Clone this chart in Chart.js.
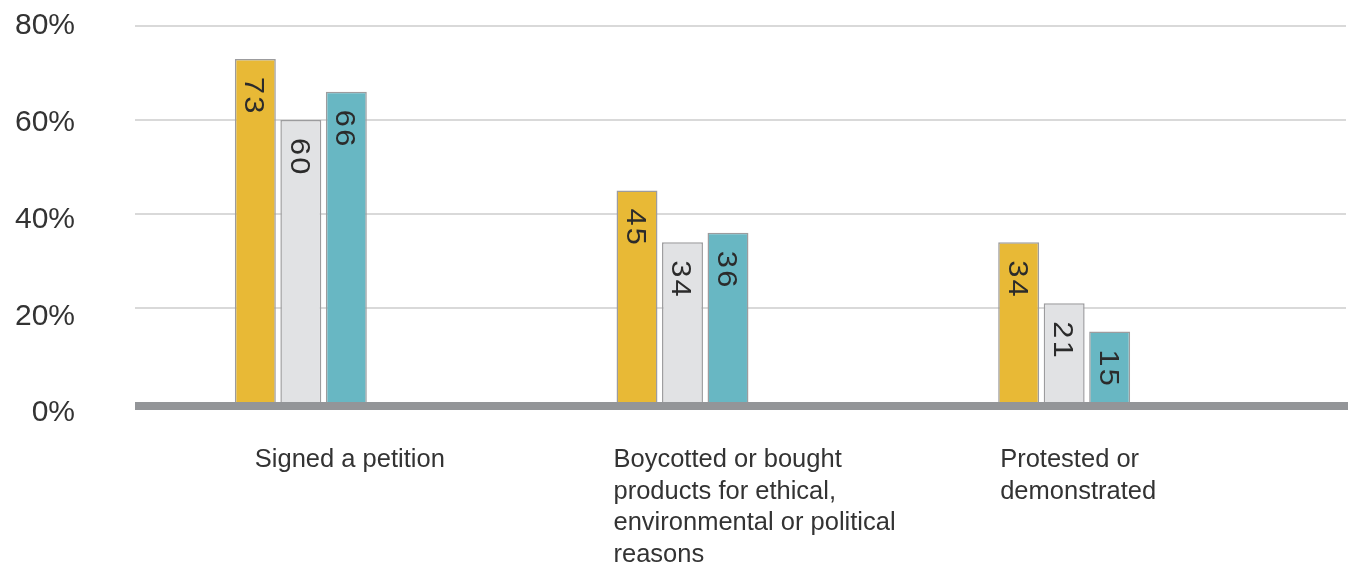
<!DOCTYPE html>
<html>
<head>
<meta charset="utf-8">
<script src="https://cdn.jsdelivr.net/npm/chart.js@4.4.1/dist/chart.umd.min.js"></script>
<style>
  html, body { margin: 0; padding: 0; background: #ffffff; }
  #wrap { width: 1351px; height: 570px; position: relative; }
</style>
</head>
<body>
<div id="wrap"><canvas id="chart" width="1351" height="570"></canvas></div>
<script>
// Category labels (multi-line) and the three series, in percent
const categories = [
  ['Signed a petition'],
  ['Boycotted or bought', 'products for ethical,', 'environmental or political', 'reasons'],
  ['Protested or', 'demonstrated']
];
const seriesYellow = [73, 45, 34];
const seriesGrey = [60, 34, 21];
const seriesTeal = [66, 36, 15];
const yTickValues = [0, 20, 40, 60, 80];

const FONT = '"Liberation Sans", Arial, sans-serif';
const TEXT = '#333333';

// Plot-area box inside the 1351x570 canvas; the value axis stops a little
// above the bottom so the percent labels sit on a slightly looser spacing
const AREA = { top: 26, bottom: 413, left: 110, right: 1255 };
const VALUE_MIN = -2.34;

// Gridlines, heavy baseline, value labels inside bars and the category captions
const decorations = {
  id: 'decorations',
  beforeDatasetsDraw(chart, args, opts) {
    const { ctx, scales: { y } } = chart;
    ctx.save();
    ctx.strokeStyle = '#d9d9d9';
    ctx.lineWidth = 2;
    yTickValues.forEach(v => {
      if (v === 0) return;
      const py = Math.round(y.getPixelForValue(v));
      ctx.beginPath();
      ctx.moveTo(opts.lineLeft, py);
      ctx.lineTo(opts.lineRight, py);
      ctx.stroke();
    });
    ctx.restore();
  },
  afterDatasetsDraw(chart, args, opts) {
    const { ctx, scales: { x, y } } = chart;
    const y0 = Math.round(y.getPixelForValue(0));
    ctx.save();

    // baseline
    ctx.fillStyle = '#939598';
    ctx.fillRect(opts.lineLeft, y0, opts.lineRight + 2 - opts.lineLeft, 8);

    // value labels, rotated to read top-to-bottom
    const fs = 28;
    ctx.font = `${fs}px ${FONT}`;
    ctx.fillStyle = '#2b2b2b';
    ctx.textAlign = 'left';
    ctx.textBaseline = 'alphabetic';
    if ('letterSpacing' in ctx) ctx.letterSpacing = '2px';
    chart.data.datasets.forEach((ds, di) => {
      const meta = chart.getDatasetMeta(di);
      meta.data.forEach((bar, i) => {
        ctx.save();
        ctx.translate(bar.x, bar.y + 18);
        ctx.rotate(Math.PI / 2);
        ctx.scale(1.1, 1);
        ctx.fillText(String(ds.data[i]), 0, fs * 0.36);
        ctx.restore();
      });
    });
    if ('letterSpacing' in ctx) ctx.letterSpacing = '0px';

    // category captions, left aligned under each group
    ctx.font = `25.5px ${FONT}`;
    ctx.fillStyle = TEXT;
    ctx.textBaseline = 'middle';
    categories.forEach((lines, i) => {
      const left = x.getPixelForValue(i) + opts.captionShift[i];
      lines.forEach((line, k) => {
        ctx.fillText(line, left, y0 + 58 + k * 31.5);
      });
    });
    ctx.restore();
  }
};

new Chart(document.getElementById('chart'), {
  type: 'bar',
  data: {
    labels: categories.map(c => c.join(' ')),
    datasets: [
      { label: 'Series 1', data: seriesYellow, backgroundColor: '#e8b936' },
      { label: 'Series 2', data: seriesGrey, backgroundColor: '#e1e2e4' },
      { label: 'Series 3', data: seriesTeal, backgroundColor: '#68b7c3' }
    ]
  },
  options: {
    responsive: false,
    devicePixelRatio: 1,
    animation: false,
    layout: { padding: { top: AREA.top, right: 1351 - AREA.right, bottom: 570 - AREA.bottom, left: 0 } },
    datasets: {
      bar: {
        borderColor: '#9c9c9e',
        borderWidth: 1.5,
        categoryPercentage: 0.3576,
        barPercentage: 0.9
      }
    },
    plugins: {
      legend: { display: false },
      tooltip: { enabled: false },
      decorations: { lineLeft: 135, lineRight: 1346, captionShift: [-46, -69, -64] }
    },
    scales: {
      x: { display: false },
      // value scale for the bars and gridlines
      y: {
        display: false,
        position: 'left',
        min: VALUE_MIN,
        max: 80
      },
      // percent labels down the left side
      yLabels: {
        position: 'left',
        min: 0,
        max: 80,
        afterBuildTicks: s => { s.ticks = yTickValues.map(v => ({ value: v })); },
        afterFit: s => {
          s.width = AREA.left;
          s.paddingTop = 0;
          s.paddingBottom = 0;
        },
        grid: { display: false, drawTicks: false },
        border: { display: false },
        ticks: {
          padding: 35,
          color: TEXT,
          font: { family: FONT, size: 30 },
          callback: v => v + '%'
        }
      }
    }
  },
  plugins: [decorations]
});
</script>
</body>
</html>
